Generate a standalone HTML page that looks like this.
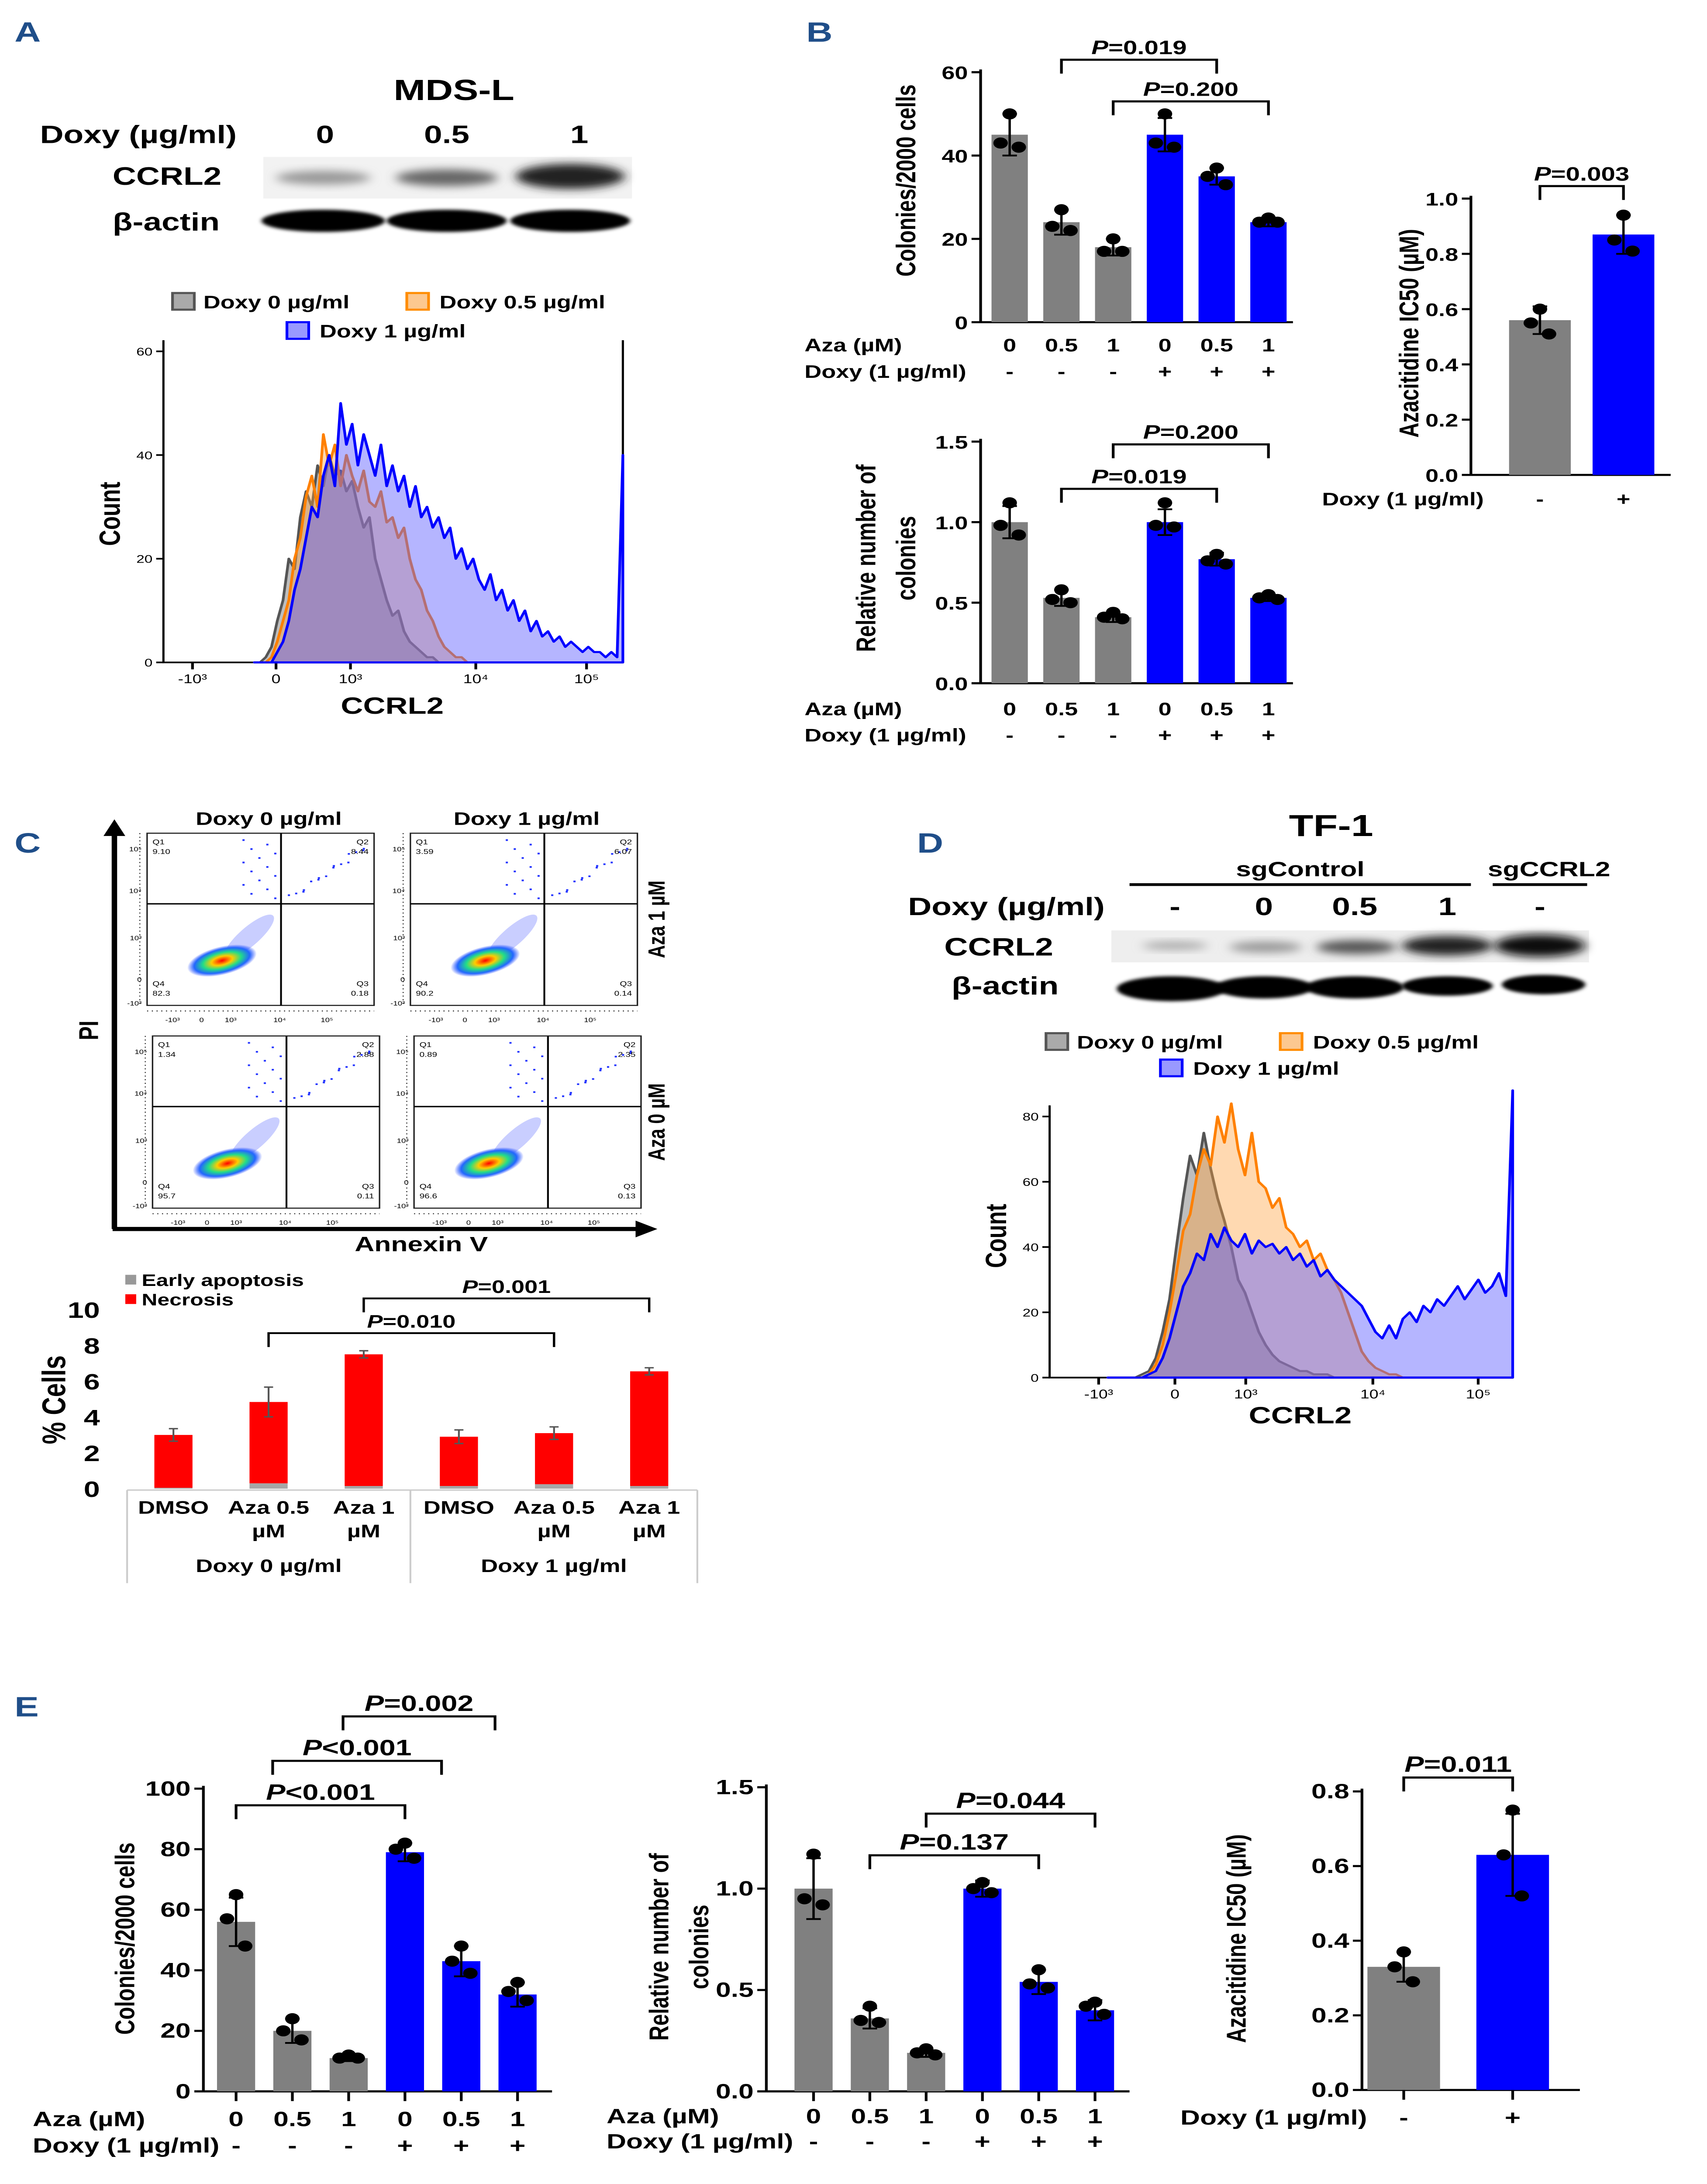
<!DOCTYPE html>
<html><head><meta charset="utf-8"><style>
html,body{margin:0;padding:0;background:#fff;width:100%;height:100%;overflow:hidden;}
svg{display:block;position:fixed;left:0;top:0;width:100vw;height:100vh;}
text{font-family:"Liberation Sans",Arial,sans-serif;font-weight:bold;fill:#000;}
.n{font-family:"Liberation Sans Narrow","Liberation Sans",sans-serif;}
.lbl{fill:#1f4e89;font-size:20px;}
</style></head><body>
<svg id="fig" xmlns="http://www.w3.org/2000/svg" viewBox="0 0 940 1572.7" preserveAspectRatio="none">
<defs>
<filter id="blur" x="-20%" y="-50%" width="140%" height="200%"><feGaussianBlur stdDeviation="3"/></filter>
<filter id="blur2" x="-20%" y="-50%" width="140%" height="200%"><feGaussianBlur stdDeviation="1.2"/></filter>
<radialGradient id="blob"><stop offset="0" stop-color="#ff0000"/><stop offset="0.3" stop-color="#ffcc00"/><stop offset="0.55" stop-color="#22dd88"/><stop offset="0.8" stop-color="#2266ff"/><stop offset="1" stop-color="#2244ff" stop-opacity="0"/></radialGradient>
</defs>

<text x="8" y="30" class="lbl">A</text>
<text x="444" y="30" class="lbl">B</text>
<text x="8" y="614" class="lbl">C</text>
<text x="505" y="614" class="lbl">D</text>
<text x="8" y="1236" class="lbl">E</text>

<g>
<text x="250" y="72" font-size="21" text-anchor="middle">MDS-L</text>
<text x="22" y="103" font-size="18">Doxy (µg/ml)</text>
<text x="179" y="103" font-size="18" text-anchor="middle">0</text>
<text x="246" y="103" font-size="18" text-anchor="middle">0.5</text>
<text x="319" y="103" font-size="18" text-anchor="middle">1</text>
<text x="62" y="133" font-size="18">CCRL2</text>
<text x="62" y="166" font-size="18">β-actin</text>
<rect x="145" y="113" width="203" height="30" fill="#f2f2f2"/>
<ellipse cx="178" cy="128" rx="26" ry="5" fill="#999" filter="url(#blur)"/>
<ellipse cx="246" cy="128" rx="28" ry="6" fill="#666" filter="url(#blur)"/>
<ellipse cx="314" cy="127" rx="30" ry="9" fill="#222" filter="url(#blur)"/>
<ellipse cx="178" cy="159" rx="34" ry="8" fill="#000" filter="url(#blur2)"/>
<ellipse cx="246" cy="159" rx="33" ry="8" fill="#000" filter="url(#blur2)"/>
<ellipse cx="314" cy="159" rx="33" ry="8" fill="#000" filter="url(#blur2)"/>
</g>
<g>
<rect x="95" y="211" width="12" height="12" fill="#aaa" stroke="#555" stroke-width="1.5"/>
<text x="112" y="222" font-size="13">Doxy 0 µg/ml</text>
<rect x="224" y="211" width="12" height="12" fill="#fcc890" stroke="#ff8c00" stroke-width="1.5"/>
<text x="242" y="222" font-size="13">Doxy 0.5 µg/ml</text>
<rect x="158" y="232" width="12" height="12" fill="#9999ff" stroke="#0000ff" stroke-width="1.5"/>
<text x="176" y="243" font-size="13">Doxy 1 µg/ml</text>
</g>
<g id="histA"></g>
<text transform="translate(66,370) rotate(-90)" font-size="16" text-anchor="middle">Count</text>
<text x="216" y="514" font-size="17" text-anchor="middle">CCRL2</text>

<g>
<text x="733" y="602" font-size="22" text-anchor="middle">TF-1</text>
<text x="716" y="631" font-size="15" text-anchor="middle">sgControl</text>
<line x1="622" y1="637" x2="810" y2="637" stroke="#000" stroke-width="2"/>
<text x="853" y="631" font-size="15" text-anchor="middle">sgCCRL2</text>
<line x1="822" y1="637" x2="874" y2="637" stroke="#000" stroke-width="2"/>
<text x="500" y="659" font-size="18">Doxy (µg/ml)</text>
<text x="647" y="659" font-size="18" text-anchor="middle">-</text>
<text x="696" y="659" font-size="18" text-anchor="middle">0</text>
<text x="746" y="659" font-size="18" text-anchor="middle">0.5</text>
<text x="797" y="659" font-size="18" text-anchor="middle">1</text>
<text x="848" y="659" font-size="18" text-anchor="middle">-</text>
<text x="520" y="688" font-size="18">CCRL2</text>
<text x="524" y="716" font-size="18">β-actin</text>
<rect x="612" y="670" width="263" height="23" fill="#eee"/>
<ellipse cx="647" cy="681" rx="18" ry="3" fill="#aaa" filter="url(#blur)"/>
<ellipse cx="697" cy="682" rx="20" ry="4" fill="#999" filter="url(#blur)"/>
<ellipse cx="747" cy="682" rx="22" ry="5" fill="#555" filter="url(#blur)"/>
<ellipse cx="797" cy="681" rx="25" ry="7" fill="#222" filter="url(#blur)"/>
<ellipse cx="848" cy="681" rx="25" ry="8" fill="#111" filter="url(#blur)"/>
<ellipse cx="645" cy="712" rx="30" ry="9" fill="#000" filter="url(#blur2)"/>
<ellipse cx="696" cy="711" rx="27" ry="8" fill="#000" filter="url(#blur2)"/>
<ellipse cx="746" cy="711" rx="27" ry="8" fill="#000" filter="url(#blur2)"/>
<ellipse cx="797" cy="710" rx="25" ry="7" fill="#000" filter="url(#blur2)"/>
<ellipse cx="850" cy="709" rx="23" ry="7" fill="#000" filter="url(#blur2)"/>
</g>
<g>
<rect x="576" y="744" width="12" height="12" fill="#aaa" stroke="#555" stroke-width="1.5"/>
<text x="593" y="755" font-size="13">Doxy 0 µg/ml</text>
<rect x="705" y="744" width="12" height="12" fill="#fcc890" stroke="#ff8c00" stroke-width="1.5"/>
<text x="723" y="755" font-size="13">Doxy 0.5 µg/ml</text>
<rect x="639" y="763" width="12" height="12" fill="#9999ff" stroke="#0000ff" stroke-width="1.5"/>
<text x="657" y="774" font-size="13">Doxy 1 µg/ml</text>
</g>
<g id="histD"></g>
<text transform="translate(554,890) rotate(-90)" font-size="16" text-anchor="middle">Count</text>
<text x="716" y="1025" font-size="17" text-anchor="middle">CCRL2</text>

<g id="flow">
<text x="148" y="594" font-size="13" text-anchor="middle">Doxy 0 µg/ml</text>
<text x="290" y="594" font-size="13" text-anchor="middle">Doxy 1 µg/ml</text>
<line x1="63" y1="885" x2="63" y2="600" stroke="#000" stroke-width="3"/>
<polygon points="57,602 63,590 69,602" fill="#000"/>
<line x1="62" y1="885" x2="352" y2="885" stroke="#000" stroke-width="3"/>
<polygon points="350,879 362,885 350,891" fill="#000"/>
<text transform="translate(54,742) rotate(-90)" font-size="15" text-anchor="middle">PI</text>
<text x="232" y="901" font-size="15" text-anchor="middle">Annexin V</text>
<text transform="translate(366,662) rotate(-90)" font-size="13" text-anchor="middle">Aza 1 µM</text>
<text transform="translate(366,808) rotate(-90)" font-size="13" text-anchor="middle">Aza 0 µM</text>
</g>

<g>
<rect x="69" y="918" width="6" height="7" fill="#999"/>
<text x="78" y="926" font-size="12" class="n">Early apoptosis</text>
<rect x="69" y="932" width="6" height="7" fill="#ff0000"/>
<text x="78" y="940" font-size="12" class="n">Necrosis</text>
</g>
<g id="barC"></g>
<text transform="translate(36,1008) rotate(-90)" font-size="18" text-anchor="middle">% Cells</text>

<g id="barB1"></g>
<g id="barB2"></g>
<g id="barB3"></g>
<g id="barE1"></g>
<g id="barE2"></g>
<g id="barE3"></g>

<text transform="translate(504,130) rotate(-90)" font-size="15" text-anchor="middle">Colonies/2000 cells</text>
<text transform="translate(482,402) rotate(-90)" font-size="15" text-anchor="middle">Relative number of</text>
<text transform="translate(504,402) rotate(-90)" font-size="15" text-anchor="middle">colonies</text>
<text transform="translate(781,240) rotate(-90)" font-size="15" text-anchor="middle">Azacitidine IC50 (µM)</text>
<text transform="translate(74,1396) rotate(-90)" font-size="15" text-anchor="middle">Colonies/2000 cells</text>
<text transform="translate(368,1402) rotate(-90)" font-size="15" text-anchor="middle">Relative number of</text>
<text transform="translate(390,1402) rotate(-90)" font-size="15" text-anchor="middle">colonies</text>
<text transform="translate(686,1396) rotate(-90)" font-size="15" text-anchor="middle">Azacitidine IC50 (µM)</text>
</svg>
<script>
const B1_aza = ['0','0.5','1','0','0.5','1'];
const B1_doxy = ['-','-','-','+','+','+'];
const B1_vals = [45,24,18,45,35,24];
const B1_err = [5,3,2,4,2,1];
const B1_dots = [[50,43,42],[27,23,22],[20,17,17],[50,43,42],[37,35,33],[25,24,24]];
const B1_ticks = [0,20,40,60];
const B2_vals = [1.0,0.53,0.41,1.0,0.77,0.53];
const B2_err = [0.1,0.05,0.03,0.08,0.04,0.02];
const B2_dots = [[1.12,0.98,0.92],[0.58,0.52,0.5],[0.44,0.41,0.4],[1.12,0.98,0.97],[0.8,0.76,0.74],[0.55,0.53,0.52]];
const B2_ticks = [0,0.5,1.0,1.5];
const B3_doxy = ['-','+'];
const B3_vals = [0.56,0.87];
const B3_err = [0.05,0.07];
const B3_dots = [[0.6,0.55,0.51],[0.94,0.85,0.81]];
const B3_ticks = [0,0.2,0.4,0.6,0.8,1.0];
const C_cats1 = ['DMSO','Aza 0.5','Aza 1','DMSO','Aza 0.5','Aza 1'];
const C_cats2 = ['','µM','µM','','µM','µM'];
const C_groups = ['Doxy 0 µg/ml','Doxy 1 µg/ml'];
const C_early = [0.05,0.3,0.15,0.15,0.25,0.15];
const C_necrosis = [3.0,4.84,7.5,2.9,3.1,6.55];
const C_err = [0.35,0.83,0.2,0.38,0.35,0.2];
const C_ticks = [0,2,4,6,8,10];
const E1_vals = [56,20,11,79,43,32];
const E1_err = [8,4,1,3,5,4];
const E1_dots = [[65,57,48],[24,20,17],[12,11,11],[82,80,77],[48,43,39],[36,33,30]];
const E1_ticks = [0,20,40,60,80,100];
const E2_vals = [1.0,0.36,0.19,1.0,0.54,0.40];
const E2_err = [0.15,0.05,0.02,0.04,0.06,0.05];
const E2_dots = [[1.17,0.95,0.92],[0.42,0.35,0.34],[0.21,0.19,0.18],[1.03,1.0,0.98],[0.6,0.53,0.51],[0.44,0.42,0.38]];
const E2_ticks = [0,0.5,1.0,1.5];
const E3_vals = [0.33,0.63];
const E3_err = [0.04,0.11];
const E3_dots = [[0.37,0.33,0.29],[0.75,0.63,0.52]];
const E3_ticks = [0,0.2,0.4,0.6,0.8];
const A_gray = [0,0,1,3,8,12,20,18,28,33,30,38,34,40,36,37,33,35,30,26,28,20,16,12,9,10,6,4,3,2,1,1,0,0,0,0,0,0,0,0,0,0,0,0,0,0,0,0,0,0,0,0,0,0,0,0,0,0,0,0,0,0,0,0,0];
const A_orange = [0,0,0,1,4,8,12,20,24,32,36,30,44,38,42,34,40,36,33,37,31,30,33,27,28,24,26,20,16,14,10,8,5,3,2,1,1,0,0,0,0,0,0,0,0,0,0,0,0,0,0,0,0,0,0,0,0,0,0,0,0,0,0,0,0];
const A_blue = [0,0,0,0,2,4,8,14,18,24,30,28,36,40,34,50,42,46,38,44,40,36,42,34,38,33,36,30,34,28,30,26,28,24,26,20,22,18,20,16,14,17,12,14,10,12,8,10,6,8,5,6,4,5,3,4,3,2,3,2,2,1,2,1,40];
const A_ticks = [0,20,40,60];
const D_gray = [0,0,0,0,0,1,2,6,14,24,40,55,68,62,75,64,55,48,40,30,26,20,14,10,7,5,4,3,2,2,1,1,1,0,0,0,0,0,0,0,0,0,0,0,0,0,0,0,0,0,0,0,0,0,0,0,0,0,0,0];
const D_orange = [0,0,0,0,0,0,1,4,10,20,32,45,50,62,70,65,80,72,84,70,62,75,60,58,52,55,46,44,40,42,36,38,33,30,26,20,14,8,5,3,2,1,1,0,0,0,0,0,0,0,0,0,0,0,0,0,0,0,0,0];
const D_blue = [0,0,0,0,0,0,1,2,6,12,20,28,32,38,36,44,40,46,42,40,44,38,42,40,41,38,40,36,38,34,36,31,33,30,28,26,24,22,18,14,12,16,12,18,20,17,22,20,24,22,25,28,24,27,30,26,28,32,25,88];
const D_ticks = [0,20,40,60,80];
const HIST_XLABELS = ['-10³','0','10³','10⁴','10⁵'];
const FLOW_Q = [['9.10','8.44','82.3','0.18'],['3.59','6.07','90.2','0.14'],['1.34','2.88','95.7','0.11'],['0.89','2.35','96.6','0.13']];

const NS='http://www.w3.org/2000/svg';
function mk(tag, attrs, parent){const e=document.createElementNS(NS,tag);for(const k in attrs)e.setAttribute(k,attrs[k]);parent.appendChild(e);return e;}
function txt(str, attrs, parent){const e=mk('text',attrs,parent);e.textContent=str;return e;}

function yAxis(g, x, y0, yTop, vmax, ticks, fmt, cls){
  const ax=mk('line',{x1:x,y1:y0,x2:x,y2:yTop-2,stroke:'#000','stroke-width':1.5},g);
  
  
  ticks.forEach(t=>{
    const y=y0-t/vmax*(y0-yTop);
    const tk=mk('line',{x1:x-5,y1:y,x2:x,y2:y,stroke:'#000','stroke-width':1.5},g);
    
    
    const tl=txt(fmt(t),{x:x-7,y:y+5,'font-size':cls?15:13,'text-anchor':'end',class:cls||''},g);
    
    
  });
}

function barChart(id, o){
  const g=document.getElementById(id);
  const ys=v=>o.y0 - v/o.vmax*(o.y0-o.yTop);
  const fs=o.cls?15:13;
  yAxis(g,o.axisX,o.y0,o.yTop,o.vmax,o.ticks,o.fmt,o.cls);
  const base=mk('line',{x1:o.axisX,y1:o.y0,x2:o.axisX+o.axisW,y2:o.y0,stroke:'#000','stroke-width':1.5},g);
  
  
  o.vals.forEach((v,i)=>{
    const cx=o.x0+i*o.step;
    const r=mk('rect',{x:cx-o.w/2,y:ys(v),width:o.w,height:o.y0-ys(v),fill:o.colors[i]},g);
    
    
    const e=o.err[i];
    const eb=mk('path',{d:`M${cx},${ys(v-e)}V${ys(v+e)}M${cx-4},${ys(v+e)}H${cx+4}M${cx-4},${ys(v-e)}H${cx+4}`,stroke:'#000','stroke-width':1.3,fill:'none'},g);
    
    
    const offs=[0,-5,5];
    o.dots[i].forEach((d,j)=>{
      const c=mk('circle',{cx:cx+offs[j],cy:ys(d),r:4,fill:'#000'},g);
      
      
    });
    if(o.tickDown){
      const tk=mk('line',{x1:cx,y1:o.y0,x2:cx,y2:o.y0+7,stroke:'#000','stroke-width':1.5},g);
      
      
    }
    if(o.rows){o.rows.forEach(row=>{
      const t=txt(row.vals[i],{x:cx,y:row.y,'font-size':fs,'text-anchor':'middle',class:o.cls||''},g);
      
      
    });}
  });
  if(o.rows){o.rows.forEach(row=>{
    const t=txt(row.title,{x:row.tx,y:row.y,'font-size':fs,class:o.cls||''},g);
    
    
  });}
  (o.brackets||[]).forEach(b=>{
    const x1=o.x0+b.a*o.step, x2=o.x0+b.b*o.step;
    const p=mk('path',{d:`M${x1},${b.y+10}V${b.y}H${x2}V${b.y+10}`,stroke:'#000','stroke-width':1.5,fill:'none'},g);
    
    
    const t=mk('text',{x:(x1+x2)/2,y:b.y-4,'font-size':fs+1,'text-anchor':'middle',class:o.cls||''},g);
    t.innerHTML='<tspan font-style="italic">P</tspan>'+b.label;
    
    
  });
}
const G='#808080', BL='#0000ff';
const six=[G,G,G,BL,BL,BL];
const f0=t=>String(t), f1=t=>t.toFixed(1);

barChart('barB1',{axisX:540,axisW:172,y0:232,yTop:52,vmax:60,ticks:B1_ticks,fmt:f0,x0:556,step:28.5,w:20,vals:B1_vals,err:B1_err,dots:B1_dots,colors:six,
  rows:[{title:'Aza (µM)',tx:443,y:253,vals:B1_aza},{title:'Doxy (1 µg/ml)',tx:443,y:272,vals:B1_doxy}],
  brackets:[{a:1,b:4,y:43,label:'=0.019'},{a:2,b:5,y:73,label:'=0.200'}]});
barChart('barB2',{axisX:540,axisW:172,y0:492,yTop:318,vmax:1.5,ticks:B2_ticks,fmt:f1,x0:556,step:28.5,w:20,vals:B2_vals,err:B2_err,dots:B2_dots,colors:six,
  rows:[{title:'Aza (µM)',tx:443,y:515,vals:B1_aza},{title:'Doxy (1 µg/ml)',tx:443,y:534,vals:B1_doxy}],
  brackets:[{a:2,b:5,y:320,label:'=0.200'},{a:1,b:4,y:352,label:'=0.019'}]});
barChart('barB3',{axisX:810,axisW:110,y0:342,yTop:143,vmax:1.0,ticks:B3_ticks,fmt:f1,x0:848,step:46,w:34,vals:B3_vals,err:B3_err,dots:B3_dots,colors:[G,BL],
  rows:[{title:'Doxy (1 µg/ml)',tx:728,y:364,vals:B3_doxy}],
  brackets:[{a:0,b:1,y:134,label:'=0.003'}]});
barChart('barE1',{cls:'n',tickDown:true,axisX:112,axisW:192,y0:1506,yTop:1288,vmax:100,ticks:E1_ticks,fmt:f0,x0:130,step:31,w:21,vals:E1_vals,err:E1_err,dots:E1_dots,colors:six,
  rows:[{title:'Aza (µM)',tx:18,y:1531,vals:B1_aza},{title:'Doxy (1 µg/ml)',tx:18,y:1550,vals:B1_doxy}],
  brackets:[{a:0,b:3,y:1300,label:'<0.001'},{a:0.65,b:3.65,y:1268,label:'<0.001'},{a:1.9,b:4.6,y:1236,label:'=0.002'}]});
barChart('barE2',{cls:'n',tickDown:true,axisX:422,axisW:200,y0:1506,yTop:1287,vmax:1.5,ticks:E2_ticks,fmt:f1,x0:448,step:31,w:21,vals:E2_vals,err:E2_err,dots:E2_dots,colors:six,
  rows:[{title:'Aza (µM)',tx:334,y:1529,vals:B1_aza},{title:'Doxy (1 µg/ml)',tx:334,y:1547,vals:B1_doxy}],
  brackets:[{a:1,b:4,y:1336,label:'=0.137'},{a:2,b:5,y:1306,label:'=0.044'}]});
barChart('barE3',{cls:'n',tickDown:true,axisX:750,axisW:120,y0:1505,yTop:1290,vmax:0.8,ticks:E3_ticks,fmt:f1,x0:773,step:60,w:40,vals:E3_vals,err:E3_err,dots:E3_dots,colors:[G,BL],
  rows:[{title:'Doxy (1 µg/ml)',tx:650,y:1530,vals:B3_doxy}],
  brackets:[{a:0,b:1,y:1280,label:'=0.011'}]});

(function(){
  const g=document.getElementById('barC');
  const y0=1072,yTop=943,vmax=10,x0=95.5,step=52.4,w=21;
  const ys=v=>y0-v/vmax*(y0-yTop);
  C_ticks.forEach(t=>{
    const tl=txt(String(t),{x:55,y:ys(t)+6,'font-size':16,'text-anchor':'end',class:'n'},g);
    
    
  });
  const frame=mk('path',{d:'M70,1073H384M70,1073V1140M226,1073V1140M384,1073V1140',stroke:'#ccc','stroke-width':1,fill:'none'},g);
  
  
  C_necrosis.forEach((v,i)=>{
    const cx=x0+i*step, e0=C_early[i];
    const r1=mk('rect',{x:cx-w/2,y:ys(e0),width:w,height:y0-ys(e0),fill:'#a6a6a6'},g);
    
    
    const r2=mk('rect',{x:cx-w/2,y:ys(v),width:w,height:ys(e0)-ys(v),fill:'#ff0000'},g);
    
    
    const e=C_err[i];
    const eb=mk('path',{d:`M${cx},${ys(v-e)}V${ys(v+e)}M${cx-2.5},${ys(v+e)}H${cx+2.5}M${cx-2.5},${ys(v-e)}H${cx+2.5}`,stroke:'#555','stroke-width':1,fill:'none'},g);
    
    
    const t1=txt(C_cats1[i],{x:cx,y:1090,'font-size':13,'text-anchor':'middle',class:'n'},g);
    
    
    const t2=txt(C_cats2[i],{x:cx,y:1107,'font-size':13,'text-anchor':'middle',class:'n'},g);
    
    
  });
  C_groups.forEach((s,k)=>{
    const t=txt(s,{x:148+k*157,y:1132,'font-size':13,'text-anchor':'middle',class:'n'},g);
    
    
  });
  [{a:1,b:4,y:960,l:'=0.010'},{a:2,b:5,y:935,l:'=0.001'}].forEach(b=>{
    const x1=x0+b.a*step,x2=x0+b.b*step;
    const p=mk('path',{d:`M${x1},${b.y+10}V${b.y}H${x2}V${b.y+10}`,stroke:'#000','stroke-width':1.3,fill:'none'},g);
    
    
    const t=mk('text',{x:(x1+x2)/2,y:b.y-4,'font-size':13,'text-anchor':'middle',class:'n'},g);
    t.innerHTML='<tspan font-style="italic">P</tspan>'+b.l;
    
    
  });
})();

function hist(id,o){
  const g=document.getElementById(id);
  const ys=v=>o.y0-v/o.vmax*(o.y0-o.yTop);
  const fr=mk('path',{d:`M${o.x1},${o.yTop-8}V${o.y0}H${o.x2}V${o.yTop-8}`,stroke:'#000','stroke-width':1.2,fill:'none'},g);
  
  
  o.ticks.forEach(t=>{
    const y=ys(t);
    const tk=mk('line',{x1:o.x1-4,y1:y,x2:o.x1,y2:y,stroke:'#000','stroke-width':1.2},g);
    
    
    const tl=txt(String(t),{x:o.x1-6,y:y+3,'font-size':8,'text-anchor':'end',style:'font-weight:normal'},g);
    
    
  });
  HIST_XLABELS.forEach((s,i)=>{
    const tl=txt(s,{x:o.xl[i],y:o.y0+15,'font-size':9,'text-anchor':'middle',style:'font-weight:normal'},g);
    
    
    const tk=mk('line',{x1:o.xl[i],y1:o.y0,x2:o.xl[i],y2:o.y0+5,stroke:'#000','stroke-width':1.5},g);
    
    
  });
  o.series.forEach(s=>{
    const n=s.data.length, bw=(o.x2-o.hx0)/(n-1);
    let d=`M${o.hx0},${o.y0}`;
    s.data.forEach((v,i)=>{d+=`L${o.hx0+i*bw},${ys(v)}`;});
    d+=`L${o.x2},${o.y0}Z`;
    const p=mk('path',{d:d,fill:s.fill,stroke:s.stroke,'stroke-width':1.5,'stroke-linejoin':'round'},g);
    
    
  });
}
const HG={fill:'rgba(110,110,110,0.45)',stroke:'#555'}, HO={fill:'rgba(255,160,60,0.4)',stroke:'#ff8000'}, HB={fill:'rgba(90,90,255,0.45)',stroke:'#0000ff'};
hist('histA',{x1:90,x2:343,y0:477,yTop:253,vmax:60,ticks:A_ticks,hx0:140,xl:[106,152,193,262,323],
  series:[Object.assign({data:A_gray,name:'hist-doxy0'},HG),Object.assign({data:A_orange,name:'hist-doxy05'},HO),Object.assign({data:A_blue,name:'hist-doxy1'},HB)]});
hist('histD',{x1:578,x2:833,y0:992,yTop:804,vmax:80,ticks:D_ticks,hx0:610,xl:[605,647,686,756,814],
  series:[Object.assign({data:D_gray,name:'hist-doxy0'},HG),Object.assign({data:D_orange,name:'hist-doxy05'},HO),Object.assign({data:D_blue,name:'hist-doxy1'},HB)]});

(function(){
  const g=document.getElementById('flow');
  const boxes=[[81,600],[226,600],[84,746],[228,746]];
  boxes.forEach((b,k)=>{
    const [x,y]=b, W=125, H=124;
    const r=mk('rect',{x:x,y:y,width:W,height:H,fill:'#fff',stroke:'#222','stroke-width':0.8},g);
    
    
    const tail=mk('ellipse',{cx:x+W*0.45,cy:y+H*0.6,rx:20,ry:6,fill:'rgba(40,60,255,0.25)',transform:`rotate(-50 ${x+W*0.45} ${y+H*0.6})`},g);
    
    
    const bl=mk('ellipse',{cx:x+W*0.33,cy:y+H*0.74,rx:20,ry:10,fill:'url(#blob)',transform:`rotate(-20 ${x+W*0.33} ${y+H*0.74})`},g);
    
    
    let d='';
    for(let i=0;i<16;i++){const px=x+W*(0.62+i*0.022+((i*7)%3)*0.01),py=y+H*(0.36-i*0.02+((i*5)%4)*0.01);d+=`M${px},${py}h1.2`;}
    for(let i=0;i<14;i++){const px=x+W*(0.42+((i*3)%5)*0.035),py=y+H*(0.04+i*0.026);d+=`M${px},${py}h1.2`;}
    const sc=mk('path',{d:d,stroke:'#2233ff','stroke-width':1.2},g);
    
    
    const q=mk('path',{d:`M${x+W*0.59},${y}V${y+H}M${x},${y+H*0.41}H${x+W}`,stroke:'#000','stroke-width':1},g);
    
    
    const pos=[[x+3,y+8,'start','Q1'],[x+W-3,y+8,'end','Q2'],[x+3,y+H-14,'start','Q4'],[x+W-3,y+H-14,'end','Q3']];
    pos.forEach((p,j)=>{
      const t1=txt(p[3],{x:p[0],y:p[1],'font-size':5,'text-anchor':p[2],style:'font-weight:normal'},g);
      
      
      const t2=txt(FLOW_Q[k][j],{x:p[0],y:p[1]+7,'font-size':5,'text-anchor':p[2],style:'font-weight:normal'},g);
      
      
    });
    HIST_XLABELS.forEach((s,i)=>{
      const t=txt(s,{x:x+[8,24,40,67,93][i]*W/125+6,y:y+H+12,'font-size':4.5,'text-anchor':'middle',style:'font-weight:normal'},g);
      
      
    });
    ['10⁵','10⁴','10³','0','-10³'].forEach((s,i)=>{
      const t=txt(s,{x:x-3,y:y+[13,43,77,107,124][i]*H/124,'font-size':4.5,'text-anchor':'end',style:'font-weight:normal'},g);
      
      
    });
    const ax=mk('path',{d:`M${x},${y+H+4}H${x+W}M${x-4},${y}V${y+H}`,stroke:'#000','stroke-width':0.6,'stroke-dasharray':'0.6 2'},g);
    
    
  });
})();
</script>
</body></html>
